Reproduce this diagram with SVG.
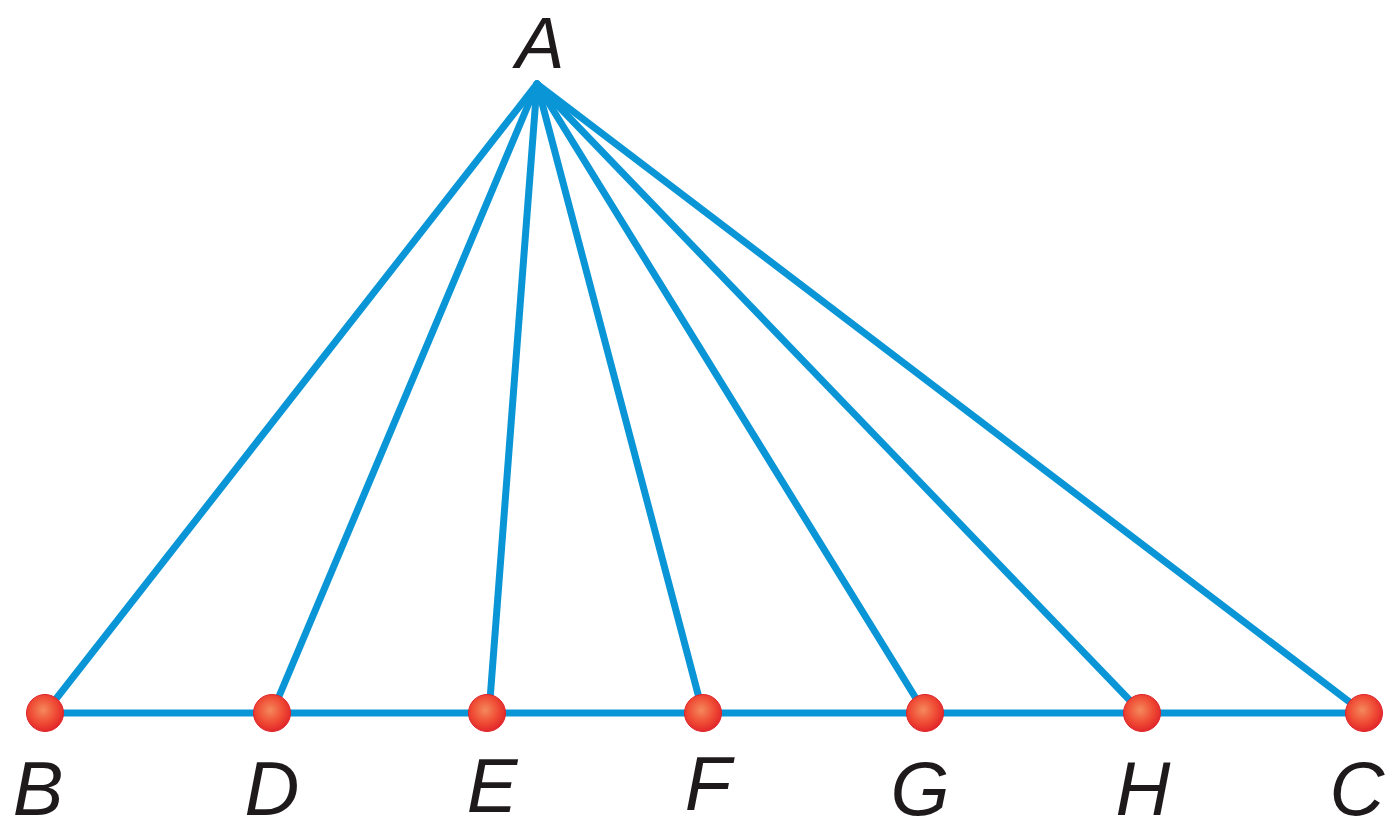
<svg xmlns="http://www.w3.org/2000/svg" width="1389" height="830" viewBox="0 0 1389 830">
<style>
.ln{stroke:#0a96d6;stroke-width:7;stroke-linecap:round;fill:none}
.pt{fill:url(#ball);stroke:#e0242a;stroke-width:1}
.lb{font-family:"Liberation Sans","DejaVu Sans",sans-serif;font-style:italic;font-size:76px;fill:#1e1a1b;text-anchor:middle}
</style>
<defs>
<radialGradient id="ball" cx="0.45" cy="0.42" r="0.6">
<stop offset="0" stop-color="#f48a5c"/>
<stop offset="0.6" stop-color="#ef4a34"/>
<stop offset="1" stop-color="#e0242a"/>
</radialGradient>
</defs>
<rect width="1389" height="830" fill="#ffffff"/>
<g id="connectors">
<line class="ln" x1="45" y1="713" x2="1364" y2="713"/>
<line class="ln" x1="537" y1="84" x2="45" y2="713"/>
<line class="ln" x1="537" y1="84" x2="272" y2="713"/>
<line class="ln" x1="537" y1="84" x2="489" y2="713"/>
<line class="ln" x1="537" y1="84" x2="703" y2="713"/>
<line class="ln" x1="537" y1="84" x2="925" y2="713"/>
<line class="ln" x1="537" y1="84" x2="1142" y2="713"/>
<line class="ln" x1="537" y1="84" x2="1364" y2="713"/>
</g>
<g id="A"><text class="lb" x="540" y="68" style="font-size:73px">A</text></g>
<g id="B"><circle class="pt" cx="45" cy="713" r="18.5"/><text class="lb" x="38" y="815">B</text></g>
<g id="D"><circle class="pt" cx="272" cy="713" r="18.5"/><text class="lb" x="272" y="815">D</text></g>
<g id="E"><circle class="pt" cx="487" cy="713" r="18.5"/><text class="lb" x="492" y="812">E</text></g>
<g id="F"><circle class="pt" cx="703" cy="713" r="18.5"/><text class="lb" x="708" y="810">F</text></g>
<g id="G"><circle class="pt" cx="925" cy="713" r="18.5"/><text class="lb" x="920" y="815">G</text></g>
<g id="H"><circle class="pt" cx="1142" cy="713" r="18.5"/><text class="lb" x="1143" y="815">H</text></g>
<g id="C"><circle class="pt" cx="1364" cy="713" r="18.5"/><text class="lb" x="1357" y="815">C</text></g>
</svg>
